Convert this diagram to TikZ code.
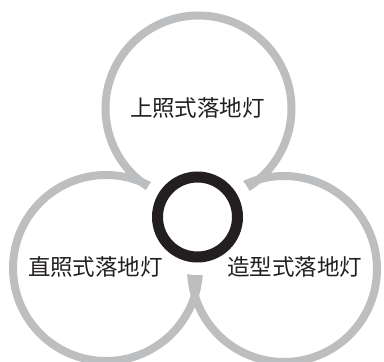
\documentclass[tikz,border=0pt]{standalone}
\usepackage{fontspec}
\newfontfamily\cjk{Noto Sans CJK SC}
\definecolor{bandgray}{RGB}{188,190,192}
\definecolor{inkblack}{RGB}{35,31,32}
\tikzset{
  band/.style={draw=bandgray, line width=8pt},
  label/.style={font=\cjk\fontsize{22.5pt}{26pt}\selectfont, text=inkblack, inner sep=0pt}
}
\begin{document}
\begin{tikzpicture}[x=1pt,y=-1pt]
\useasboundingbox (0,0) rectangle (384,362);
\clip (0,0) rectangle (384,362);
\fill[white] (0,0) rectangle (384,362);
% three circles
\draw[band] (198.5,108.5) circle[radius=93pt];
\draw[band] (106,268) circle[radius=93pt];
\draw[band] (284,269) circle[radius=93pt];
% gap in the middle
\fill[white] (197.5,217) circle[radius=58pt];
% central ring
\draw[inkblack, line width=11pt] (197.5,217) circle[radius=40pt];
% labels
\node[label] (top) at (197.5,108) {上照式落地灯};
\node[label] (left) at (95.5,267) {直照式落地灯};
\node[label] (right) at (295,267) {造型式落地灯};
\end{tikzpicture}
\end{document}
